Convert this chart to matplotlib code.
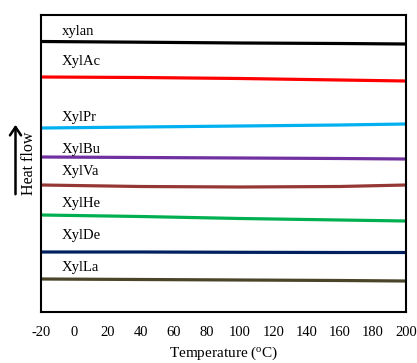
import matplotlib

matplotlib.use("Agg")
import matplotlib.pyplot as plt  # noqa: E402

plt.rcParams["font.family"] = ["Liberation Serif", "DejaVu Serif"]
plt.rcParams["mathtext.fontset"] = "custom"
plt.rcParams["mathtext.rm"] = "Liberation Serif"
plt.rcParams["axes.unicode_minus"] = False

# DSC traces, heat flow in arbitrary units (stacked, offset)
temps = [-20, 40, 100, 160, 200]
samples = ["xylan", "XylAc", "XylPr", "XylBu", "XylVa", "XylHe", "XylDe", "XylLa"]
heat_flow = [
    [270.5, 269.8, 269.0, 268.5, 268.0],
    [235.0, 234.5, 233.5, 232.0, 231.0],
    [184.0, 185.0, 186.0, 187.0, 188.0],
    [155.0, 154.5, 154.0, 153.5, 153.0],
    [127.0, 125.5, 125.0, 125.5, 127.0],
    [97.0, 95.5, 93.5, 92.0, 91.0],
    [60.0, 60.0, 59.7, 59.5, 59.5],
    [33.0, 32.5, 32.0, 31.5, 31.0],
]
label_y = [281, 250, 195, 162, 141, 109, 77, 44]
colors = ["#000000", "#ff0000", "#00b0f0", "#7030a0",
          "#953735", "#00b050", "#002060", "#4a4529"]

fig = plt.figure(figsize=(4.17, 3.63), dpi=100)
ax = fig.add_axes([41 / 417, 51 / 363, 365 / 417, 297 / 363])

for name, y, ly, c in zip(samples, heat_flow, label_y, colors):
    ax.plot(temps, y, color=c, lw=2.3, solid_capstyle="butt")
    ax.text(-7.5, ly, name, fontsize=10.5, ha="left", va="center")

ax.set_xlim(-20, 200)
ax.set_ylim(0, 297)
ax.set_xticks(range(-20, 201, 20))
ax.set_yticks([])
ax.tick_params(axis="x", length=0, pad=10, labelsize=10.5)
for s in ax.spines.values():
    s.set_linewidth(1.5)
ax.set_xlabel("Temperature ($\\rm ^{o}$C)", fontsize=11, labelpad=4)

# "Heat flow" with upward arrow on the left
fig.text(29 / 417, 1 - 163 / 363, "Heat flow", rotation=90,
         ha="center", va="center", fontsize=11.5)
fig.patches.append(matplotlib.patches.FancyArrowPatch(
    (15.5 / 417, 1 - 197 / 363), (15.5 / 417, 1 - 122 / 363),
    transform=fig.transFigure, arrowstyle="->,head_width=4,head_length=6",
    lw=1.8, color="black", mutation_scale=1))

fig.savefig("out.png", dpi=100)
